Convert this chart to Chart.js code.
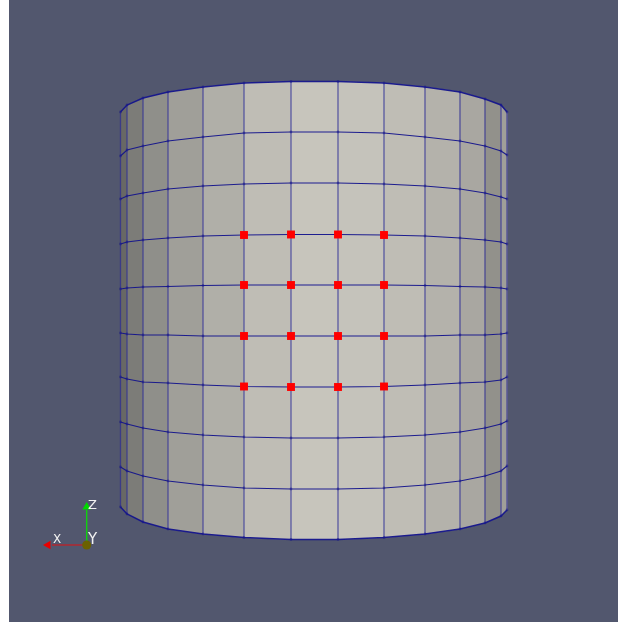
<!DOCTYPE html>
<html>
<head>
<meta charset="utf-8">
<title>Cylinder mesh</title>
<script src="https://cdn.jsdelivr.net/npm/chart.js@4/dist/chart.umd.min.js"></script>
<style>
  html, body { margin: 0; padding: 0; background: #ffffff; }
  #wrap { position: absolute; left: 9px; top: 0; width: 609px; height: 622px; background: #52576e; }
  canvas { display: block; filter: blur(0.4px); }
</style>
</head>
<body>
<div id="wrap"><canvas id="chart" width="609" height="622"></canvas></div>
<script>
// view coordinates of the cylinder mesh
const columnX = [120.5, 127, 143, 168, 203, 244, 291, 338, 384, 425, 460, 485, 501, 507];

const ring0 = [112, 105, 98, 92, 87, 83, 81.5, 81.5, 83, 87, 92, 99, 105, 112];
const ring1 = [156, 150, 146, 141, 137, 133, 132, 132, 133, 137, 141, 146, 151, 155];
const ring2 = [199, 196, 193, 189, 186, 184, 183, 183, 184, 186, 189, 193, 197, 199];
const ring3 = [244, 242, 240, 238, 236, 235, 234.5, 234.5, 235, 236, 238, 240, 242, 244];
const ring4 = [289, 288, 287, 286.5, 285.5, 285, 285, 285, 285, 285.5, 286.5, 287, 288, 289];
const ring5 = [333, 334, 335, 335, 336, 336, 336, 336, 336, 336, 335, 335, 334, 333];
const ring6 = [377, 379, 382, 383, 385, 386.5, 387, 387, 386.5, 385, 383, 382, 380, 377];
const ring7 = [422, 424, 428, 432, 435, 437, 438, 438, 437, 435, 432, 428, 424, 421];
const ring8 = [467, 471, 476, 481, 485, 488, 489, 489, 488, 485, 481, 476, 471, 466];
const ring9 = [507, 514, 522, 529, 534, 537.5, 539.5, 539.5, 537.5, 534, 529, 523, 516, 510];

const bandColors = ['#686865', '#7c7c78', '#8f8f8a', '#a09f99', '#b0afa8', '#bfbdb5', '#c7c5bc',
  '#c5c3bb', '#bfbdb5', '#b4b2ab', '#a9a7a1', '#92918b', '#a09f99'];

// red selected points: ring / column indices of the mesh
const selectedRings = [3, 4, 5, 6];
const selectedColumns = [5, 6, 7, 8];

// orientation widget
const axisOrigin = [86.7, 545];
const axisXEnd = [52, 545];
const axisZEnd = [86.7, 510];
const coneX = [48, 545];
const coneZ = [86.7, 507];
const axisLabels = [
  { text: 'X', x: 53, y: 540, size: 12 },
  { text: 'Z', x: 88, y: 506, size: 13 },
  { text: 'Y', x: 88, y: 540, size: 15 }
];

const rings = [ring0, ring1, ring2, ring3, ring4, ring5, ring6, ring7, ring8, ring9];
const lineBlue = 'rgba(20, 20, 140, 0.95)';
const datasets = [];

// shaded faces, one closed shape per column band
bandColors.forEach((color, i) => {
  datasets.push({
    data: [
      { x: columnX[i], y: ring0[i] },
      { x: columnX[i + 1], y: ring0[i + 1] },
      { x: columnX[i + 1], y: ring9[i + 1] },
      { x: columnX[i], y: ring9[i] },
      { x: columnX[i], y: ring0[i] }
    ],
    showLine: true,
    fill: 'shape',
    backgroundColor: color,
    borderColor: color,
    borderWidth: 0.5,
    pointRadius: 0
  });
});

// vertical mesh lines with a faint dark dot on each vertex
columnX.forEach((x, c) => {
  datasets.push({
    data: rings.map(r => ({ x: x, y: r[c] })),
    showLine: true,
    borderColor: 'rgba(40, 40, 150, 0.68)',
    borderWidth: 1.3,
    pointRadius: 1.4,
    pointBackgroundColor: 'rgba(10, 10, 130, 0.4)',
    pointBorderWidth: 0
  });
});

// horizontal rings
rings.forEach((r, n) => {
  datasets.push({
    data: columnX.map((x, c) => ({ x: x, y: r[c] })),
    showLine: true,
    borderColor: lineBlue,
    borderWidth: (n === 0 || n === 9) ? 1.5 : 1.1,
    pointRadius: 0
  });
});

// selected points
datasets.push({
  data: selectedRings.flatMap(r => selectedColumns.map(c => ({ x: columnX[c], y: rings[r][c] }))),
  showLine: false,
  pointStyle: 'rect',
  pointRadius: 5.6,
  pointBackgroundColor: '#ff0000',
  pointBorderWidth: 0
});

// orientation widget
datasets.push({
  data: [{ x: axisOrigin[0], y: axisOrigin[1] }, { x: axisXEnd[0], y: axisXEnd[1] }],
  showLine: true, borderColor: '#e01010', borderWidth: 1.2, pointRadius: 0
});
datasets.push({
  data: [{ x: axisOrigin[0], y: axisOrigin[1] }, { x: axisZEnd[0], y: axisZEnd[1] }],
  showLine: true, borderColor: '#10d010', borderWidth: 1.4, pointRadius: 0
});
datasets.push({
  data: [{ x: coneX[0], y: coneX[1] }],
  pointStyle: 'triangle', rotation: -90, pointRadius: 5,
  pointBackgroundColor: '#e80000', pointBorderWidth: 0
});
datasets.push({
  data: [{ x: coneZ[0], y: coneZ[1] }],
  pointStyle: 'triangle', pointRadius: 5,
  pointBackgroundColor: '#00d800', pointBorderWidth: 0
});
datasets.push({
  data: [{ x: axisOrigin[0], y: axisOrigin[1] }],
  pointRadius: 4.5, pointBackgroundColor: '#6b6100', pointBorderWidth: 0
});

// chart.js paints the first dataset last, so put the faces at the end of the list
datasets.reverse();

// the X, Y, Z letters next to the widget
const axisLetters = {
  id: 'axisLetters',
  afterDatasetsDraw(chart) {
    const ctx = chart.ctx;
    ctx.save();
    ctx.fillStyle = '#f2f2f2';
    ctx.textAlign = 'left';
    ctx.textBaseline = 'middle';
    axisLabels.forEach(l => {
      ctx.font = l.size + 'px "DejaVu Sans"';
      ctx.fillText(l.text, chart.scales.x.getPixelForValue(l.x), chart.scales.y.getPixelForValue(l.y));
    });
    ctx.restore();
  }
};

new Chart(document.getElementById('chart'), {
  type: 'scatter',
  data: { datasets: datasets },
  plugins: [axisLetters],
  options: {
    responsive: false,
    animation: false,
    layout: { autoPadding: false, padding: 0 },
    plugins: { legend: { display: false }, tooltip: { enabled: false } },
    scales: {
      x: { type: 'linear', display: false, min: 9, max: 618 },
      y: { type: 'linear', display: false, min: 0, max: 622, reverse: true }
    }
  }
});
</script>
</body>
</html>
